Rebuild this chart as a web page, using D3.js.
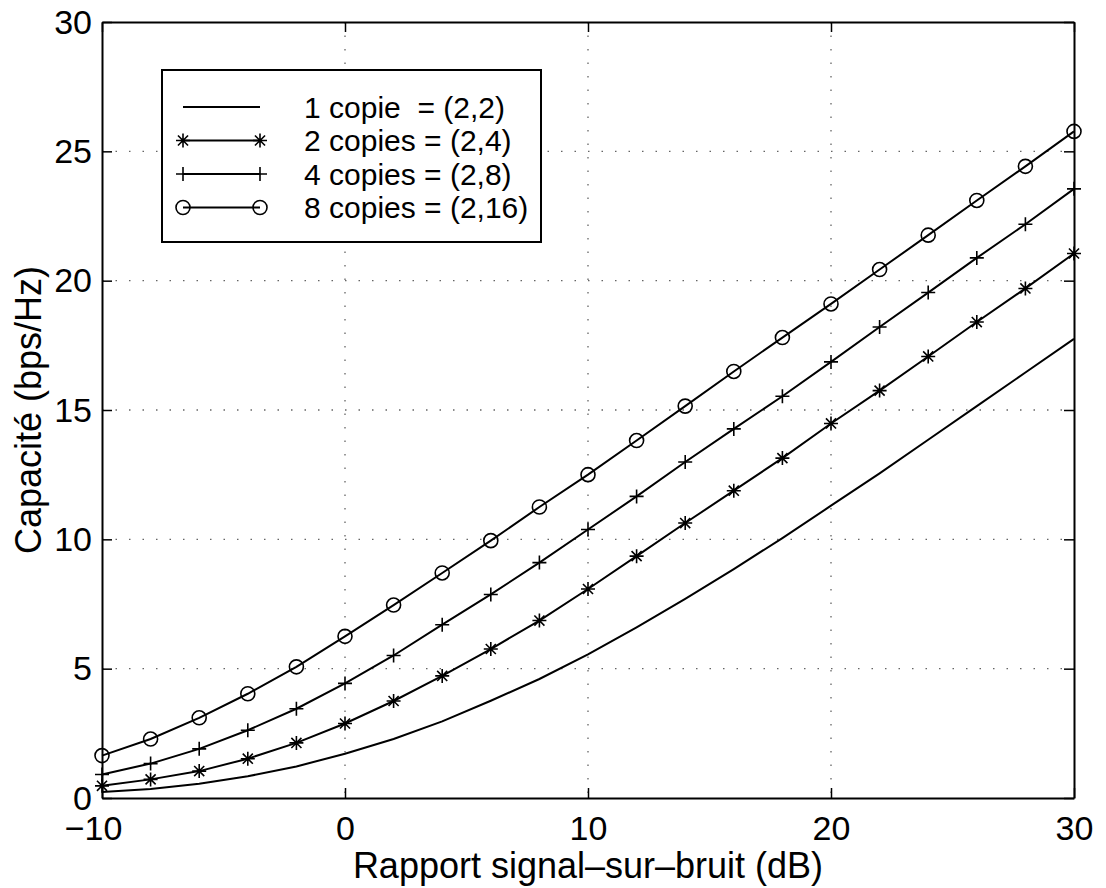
<!DOCTYPE html>
<html>
<head>
<meta charset="utf-8">
<script src="https://cdn.jsdelivr.net/npm/d3@7"></script>
<style>
  body { margin: 0; background: #fff; }
  svg { display: block; }
  text { font-family: "Liberation Sans", Arial, Helvetica, sans-serif; fill: #000; }
  .grid line { stroke: #000; stroke-width: 1.3; stroke-dasharray: 1.5 12; opacity: 0.6; }
  .curve { fill: none; stroke: #000; stroke-width: 2; }
  .marker { fill: none; stroke: #000; stroke-width: 1.6; }
</style>
</head>
<body>
<div id="chart"></div>
<script>
// SNR values in dB (one point every 2 dB)
const snr = [-10, -8, -6, -4, -2, 0, 2, 4, 6, 8, 10, 12, 14, 16, 18, 20, 22, 24, 26, 28, 30];

// capacity (bps/Hz)
const cap1 = [0.23, 0.35, 0.55, 0.84, 1.22, 1.71, 2.28, 2.96, 3.76, 4.6, 5.55, 6.6, 7.7, 8.85, 10.05, 11.3, 12.55, 13.85, 15.15, 16.45, 17.75];
const cap2 = [0.47, 0.72, 1.04, 1.52, 2.13, 2.88, 3.75, 4.72, 5.76, 6.86, 8.08, 9.35, 10.63, 11.88, 13.14, 14.48, 15.75, 17.07, 18.4, 19.7, 21.05];
const cap4 = [0.91, 1.33, 1.9, 2.62, 3.45, 4.43, 5.51, 6.7, 7.87, 9.1, 10.38, 11.66, 12.99, 14.27, 15.53, 16.86, 18.21, 19.54, 20.88, 22.18, 23.55];
const cap8 = [1.64, 2.28, 3.1, 4.03, 5.07, 6.25, 7.46, 8.7, 9.95, 11.25, 12.5, 13.82, 15.15, 16.49, 17.8, 19.1, 20.43, 21.76, 23.1, 24.42, 25.77];

const seriesLabels = ['1 copie  = (2,2)', '2 copies = (2,4)', '4 copies = (2,8)', '8 copies = (2,16)'];
const seriesMarkers = ['none', 'star', 'plus', 'circle'];
const seriesValues = [cap1, cap2, cap4, cap8];

const xTicks = [-10, 0, 10, 20, 30];
const yTicks = [0, 5, 10, 15, 20, 25, 30];

const width = 1106;
const height = 888;
const margin = { top: 22, right: 32, bottom: 90, left: 102 };
const plotW = width - margin.left - margin.right;
const plotH = height - margin.top - margin.bottom;
const tickLen = 10;

const svg = d3.select('#chart').append('svg')
  .attr('width', width)
  .attr('height', height);

const x = d3.scaleLinear().domain([-10, 30]).range([0, plotW]);
const y = d3.scaleLinear().domain([0, 30]).range([plotH, 0]);

const g = svg.append('g')
  .attr('transform', `translate(${margin.left},${margin.top})`);

// dotted grid, matlab style
const grid = g.append('g').attr('class', 'grid');
grid.selectAll('.gx')
    .data(xTicks.slice(1, -1))
  .enter().append('line')
    .attr('x1', d => x(d)).attr('x2', d => x(d))
    .attr('y1', 0).attr('y2', plotH);
grid.selectAll('.gy')
    .data(yTicks.slice(1, -1))
  .enter().append('line')
    .attr('y1', d => y(d)).attr('y2', d => y(d))
    .attr('x1', 0).attr('x2', plotW);

// axes: ticks point inward on all four sides
const tickFont = 34;
const titleFont = 36;
const bottomAxis = g.append('g')
  .attr('transform', `translate(0,${plotH})`)
  .call(d3.axisBottom(x).tickValues(xTicks).tickSizeInner(-tickLen).tickSizeOuter(0)
    .tickFormat(d => d < 0 ? '\u2212' + Math.abs(d) : d));
const leftAxis = g.append('g')
  .call(d3.axisLeft(y).tickValues(yTicks).tickSizeInner(-tickLen).tickSizeOuter(0));
g.append('g')
  .call(d3.axisTop(x).tickValues(xTicks).tickSizeInner(-tickLen).tickSizeOuter(0).tickFormat(''));
g.append('g')
  .attr('transform', `translate(${plotW},0)`)
  .call(d3.axisRight(y).tickValues(yTicks).tickSizeInner(-tickLen).tickSizeOuter(0).tickFormat(''));

g.selectAll('.domain').attr('stroke', '#000').attr('stroke-width', 2);
g.selectAll('.tick line').attr('stroke', '#000').attr('stroke-width', 1.5);

bottomAxis.selectAll('text')
  .attr('font-size', tickFont)
  .attr('font-family', null)
  .attr('y', 42)
  .attr('dy', 0)
  // the minus sign pushes the first label a little to the left
  .attr('dx', d => d < 0 ? -9 : 0);
leftAxis.selectAll('text')
  .attr('font-size', tickFont)
  .attr('font-family', null)
  .attr('x', -10)
  .attr('dy', '0.33em');

// axis titles
svg.append('text')
  .attr('x', margin.left + plotW / 2)
  .attr('y', height - 10)
  .attr('text-anchor', 'middle')
  .attr('font-size', titleFont)
  .text('Rapport signal\u2013sur\u2013bruit (dB)');

svg.append('text')
  .attr('transform', `translate(41,${margin.top + plotH / 2}) rotate(-90)`)
  .attr('text-anchor', 'middle')
  .attr('font-size', titleFont)
  .text('Capacité (bps/Hz)');

// marker drawing helper
function drawMarker(sel, type, size) {
  const s = size;
  if (type === 'circle') {
    sel.append('circle').attr('class', 'marker').attr('r', s);
  } else if (type === 'plus') {
    sel.append('path').attr('class', 'marker')
      .attr('d', `M${-s},0H${s}M0,${-s}V${s}`);
  } else if (type === 'star') {
    const d = s * 0.72;
    sel.append('path').attr('class', 'marker')
      .attr('d', `M${-s},0H${s}M0,${-s}V${s}M${-d},${-d}L${d},${d}M${-d},${d}L${d},${-d}`);
  }
}

const line = d3.line()
  .x((d, i) => x(snr[i]))
  .y(d => y(d));

seriesValues.forEach(function(vals, k) {
  g.append('path')
    .attr('class', 'curve')
    .attr('d', line(vals));
  if (seriesMarkers[k] === 'none') return;
  g.selectAll('.m' + k)
      .data(vals)
    .enter().append('g')
      .attr('class', 'm' + k)
      .attr('transform', (d, i) => `translate(${x(snr[i])},${y(d)})`)
      .each(function() { drawMarker(d3.select(this), seriesMarkers[k], 7); });
});

// legend box
const legend = svg.append('g').attr('transform', 'translate(162,70)');
legend.append('rect')
  .attr('width', 379).attr('height', 172)
  .attr('fill', '#fff').attr('stroke', '#000').attr('stroke-width', 2);

const legendRows = legend.selectAll('.row')
    .data(seriesLabels)
  .enter().append('g')
    .attr('class', 'row')
    .attr('transform', (d, i) => `translate(0,${37 + i * 33.5})`);

legendRows.append('line')
  .attr('x1', 21).attr('x2', 98)
  .attr('stroke', '#000').attr('stroke-width', 2);

legendRows.each(function(d, i) {
  const row = d3.select(this);
  if (seriesMarkers[i] === 'none') return;
  [21, 98].forEach(function(px) {
    drawMarker(row.append('g').attr('transform', `translate(${px},0)`), seriesMarkers[i], 7);
  });
});

legendRows.append('text')
  .attr('x', 142)
  .attr('dy', '0.35em')
  .attr('font-size', 30)
  .style('white-space', 'pre')
  .text(d => d);
</script>
</body>
</html>
